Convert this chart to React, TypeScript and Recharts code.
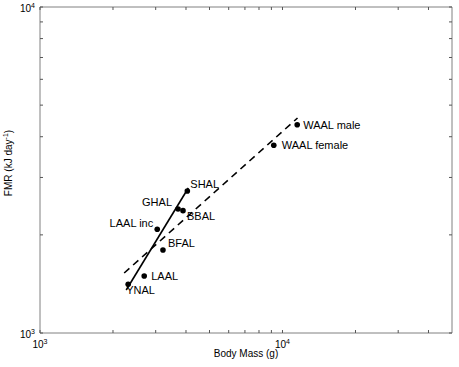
import { ScatterChart, Scatter, XAxis, YAxis } from "recharts";

// albatross species: body mass (g) vs field metabolic rate (kJ/day)
const species = ["YNAL", "LAAL", "LAAL inc", "BFAL", "GHAL", "BBAL", "SHAL", "WAAL female", "WAAL male"];
const bodyMass = [2310, 2690, 3044, 3214, 3709, 3888, 4051, 9205, 11500];
const fmr = [1411, 1496, 2080, 1797, 2400, 2373, 2727, 3765, 4355];

// fitted lines (end points)
const solidMass = [2267, 4089];
const solidFmr = [1355, 2785];
const dashedMass = [2224, 11533];
const dashedFmr = [1528, 4565];

const xTicks = [1000, 2000, 3000, 4000, 5000, 6000, 7000, 8000, 9000, 10000, 20000, 30000, 40000];
const yTicks = [1000, 2000, 3000, 4000, 5000, 6000, 7000, 8000, 9000, 10000];
const majorTicks: Record<number, string> = { 1000: "3", 10000: "4" };

// label placement next to each dot
const labelPos: Record<string, { dx: number; dy: number; anchor: string }> = {
  YNAL: { dx: -2, dy: 10, anchor: "start" },
  LAAL: { dx: 7, dy: 4, anchor: "start" },
  "LAAL inc": { dx: -4, dy: -2, anchor: "end" },
  BFAL: { dx: 5, dy: -3, anchor: "start" },
  GHAL: { dx: -6, dy: -3, anchor: "end" },
  BBAL: { dx: 4, dy: 9, anchor: "start" },
  SHAL: { dx: 3, dy: -3, anchor: "start" },
  "WAAL female": { dx: 8, dy: 4, anchor: "start" },
  "WAAL male": { dx: 6, dy: 4, anchor: "start" },
};

const points = species.map((name, i) => ({ name, mass: bodyMass[i], fmr: fmr[i] }));
const solidLine = solidMass.map((m, i) => ({ mass: m, fmr: solidFmr[i] }));
const dashedLine = dashedMass.map((m, i) => ({ mass: m, fmr: dashedFmr[i] }));

const FONT = "'Liberation Sans', Arial, Helvetica, sans-serif";
const AXIS = "#808080";
const TICK = "#555";

const XTick = (props: any) => {
  const { x, y, payload, side } = props;
  const dir = side === "bottom" ? -1 : 1;
  const exp = majorTicks[payload.value];
  return (
    <g>
      <line x1={x} x2={x} y1={y} y2={y + dir * 3} stroke={TICK} />
      {exp && side === "bottom" && (
        <text x={x} y={y + 15} textAnchor="middle" fontSize={10} fontFamily={FONT} fill="#000">
          10<tspan dy={-4} fontSize={7}>{exp}</tspan>
        </text>
      )}
    </g>
  );
};

const YTick = (props: any) => {
  const { x, y, payload, side } = props;
  const dir = side === "left" ? 1 : -1;
  const exp = majorTicks[payload.value];
  return (
    <g>
      <line x1={x} x2={x + dir * 3} y1={y} y2={y} stroke={TICK} />
      {exp && side === "left" && (
        <text x={x - 5} y={y + 5} textAnchor="end" fontSize={10} fontFamily={FONT} fill="#000">
          10<tspan dy={-4} fontSize={7}>{exp}</tspan>
        </text>
      )}
    </g>
  );
};

const Dot = (props: any) => {
  const { cx, cy, payload } = props;
  const p = labelPos[payload.name];
  return (
    <g>
      <circle cx={cx} cy={cy} r={2.8} fill="#000" />
      <text x={cx + p.dx} y={cy + p.dy} textAnchor={p.anchor} fontSize={11} fontFamily={FONT} fill="#000">
        {payload.name}
      </text>
    </g>
  );
};

const NoShape = () => <g />;

export default function App() {
  return (
    <div style={{ position: "absolute", left: 0, top: 0, background: "#fff" }}>
      <ScatterChart width={459} height={367} margin={{ top: 0, right: 0, bottom: 0, left: 0 }}>
        <XAxis
          dataKey="mass"
          type="number"
          scale="log"
          domain={[1000, 50000]}
          allowDataOverflow
          ticks={xTicks}
          interval={0}
          height={34}
          tickSize={0}
          tickMargin={0}
          tickLine={false}
          axisLine={{ stroke: AXIS }}
          tick={<XTick side="bottom" />}
          label={{
            content: (p: any) => {
              const vb = p.viewBox;
              return (
                <text x={vb.x + vb.width / 2} y={vb.y + 24} textAnchor="middle" fontSize={10} fontFamily={FONT} fill="#000">
                  Body Mass (g)
                </text>
              );
            },
          }}
        />
        <XAxis
          xAxisId="top"
          orientation="top"
          dataKey="mass"
          type="number"
          scale="log"
          domain={[1000, 50000]}
          allowDataOverflow
          ticks={xTicks}
          interval={0}
          height={7}
          tickSize={0}
          tickMargin={0}
          tickLine={false}
          axisLine={{ stroke: AXIS }}
          tick={<XTick side="top" />}
        />
        <YAxis
          dataKey="fmr"
          type="number"
          scale="log"
          domain={[1000, 10000]}
          allowDataOverflow
          ticks={yTicks}
          interval={0}
          width={40}
          tickSize={0}
          tickMargin={0}
          tickLine={false}
          axisLine={{ stroke: AXIS }}
          tick={<YTick side="left" />}
          label={{
            content: (p: any) => {
              const vb = p.viewBox;
              const cx = vb.x + 12;
              const cy = vb.y + vb.height / 2 - 7;
              return (
                <text x={cx} y={cy} transform={`rotate(-90 ${cx} ${cy})`} textAnchor="middle" fontSize={10} fontFamily={FONT} fill="#000">
                  FMR (kJ day<tspan dy={-4} fontSize={7}>-1</tspan>
                  <tspan dy={4}>)</tspan>
                </text>
              );
            },
          }}
        />
        <YAxis
          yAxisId="right"
          orientation="right"
          dataKey="fmr"
          type="number"
          scale="log"
          domain={[1000, 10000]}
          allowDataOverflow
          ticks={yTicks}
          interval={0}
          width={7}
          tickSize={0}
          tickMargin={0}
          tickLine={false}
          axisLine={{ stroke: AXIS }}
          tick={<YTick side="right" />}
        />
        <Scatter
          data={dashedLine}
          line={{ stroke: "#000", strokeWidth: 1.6, strokeDasharray: "7 5" }}
          shape={<NoShape />}
          isAnimationActive={false}
        />
        <Scatter
          data={solidLine}
          line={{ stroke: "#000", strokeWidth: 1.6 }}
          shape={<NoShape />}
          isAnimationActive={false}
        />
        <Scatter data={points} shape={<Dot />} isAnimationActive={false} />
      </ScatterChart>
    </div>
  );
}
